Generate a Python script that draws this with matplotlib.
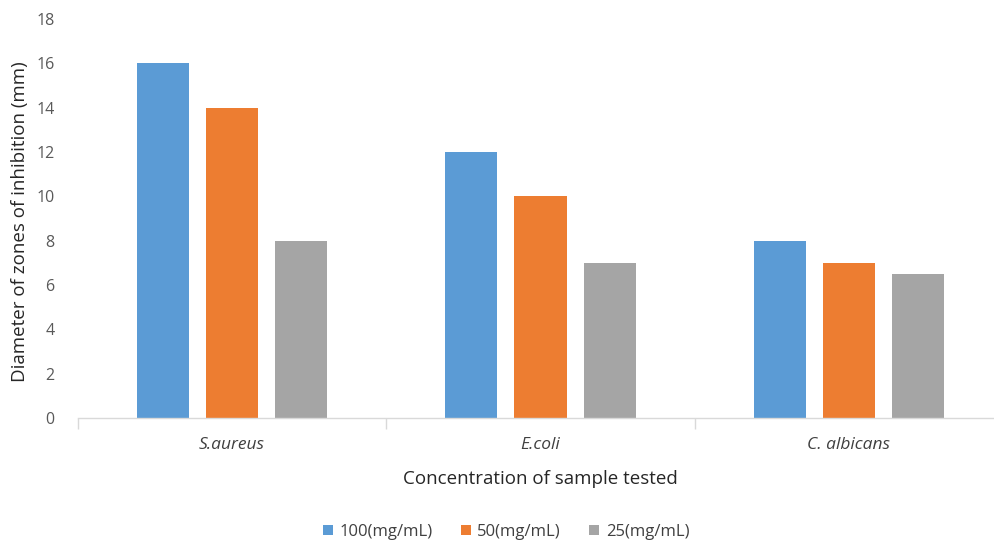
import matplotlib
matplotlib.use("Agg")
import matplotlib.pyplot as plt
import numpy as np

categories = ["S.aureus", "E.coli", "C. albicans"]
series_names = ["100(mg/mL)", "50(mg/mL)", "25(mg/mL)"]
v100 = [16, 12, 8]
v50 = [14, 10, 7]
v25 = [8, 7, 6.5]
colors = ["#5B9BD5", "#ED7D31", "#A5A5A5"]
yticks = [0, 2, 4, 6, 8, 10, 12, 14, 16, 18]

plt.rcParams['font.family'] = ['Open Sans', 'DejaVu Sans']

fig = plt.figure(figsize=(9.95, 5.45), dpi=100)
ax = fig.add_axes([78/995, 1 - 418/545, (1003 - 78)/995, (418 - 19)/545])

x = np.arange(len(categories))
w = 0.169
step = 0.224
for i, (vals, name) in enumerate(zip([v100, v50, v25], series_names)):
    ax.bar(x + (i - 1) * step, vals, width=w, color=colors[i], label=name, zorder=2)

ax.set_xlim(-0.5, 2.5)
ax.set_ylim(0, 18)
ax.set_yticks(yticks)
ax.set_yticklabels([str(t) for t in yticks], color="#595959", fontsize=11.5)
ax.tick_params(axis='y', length=0, pad=17)

ax.set_xticks(x)
ax.set_xticklabels(categories, fontsize=12.5, color="#404040", style='italic')
ax.tick_params(axis='x', which='major', length=0, pad=14)
ax.set_xticks([-0.5, 0.5, 1.5, 2.5], minor=True)
ax.tick_params(axis='x', which='minor', length=8, color="#D9D9D9", width=1)

for s in ['top', 'right', 'left']:
    ax.spines[s].set_visible(False)
ax.spines['bottom'].set_color("#D9D9D9")
ax.spines['bottom'].set_linewidth(1)

ax.set_xlabel("Concentration of sample tested", fontsize=13.5, color="#262626", labelpad=12)
fig.text(20/995, 1 - 222/545, "Diameter of zones of inhibition (mm)", rotation=90,
         fontsize=13.5, color="#262626", ha='center', va='center')

leg = fig.legend(loc='center', bbox_to_anchor=(506/995, 1 - 532/545), ncol=3, frameon=False,
                 fontsize=12, handlelength=0.6, handleheight=0.6, columnspacing=1.7,
                 handletextpad=0.4)
for t in leg.get_texts():
    t.set_color("#404040")

fig.savefig("out.png", dpi=100)
